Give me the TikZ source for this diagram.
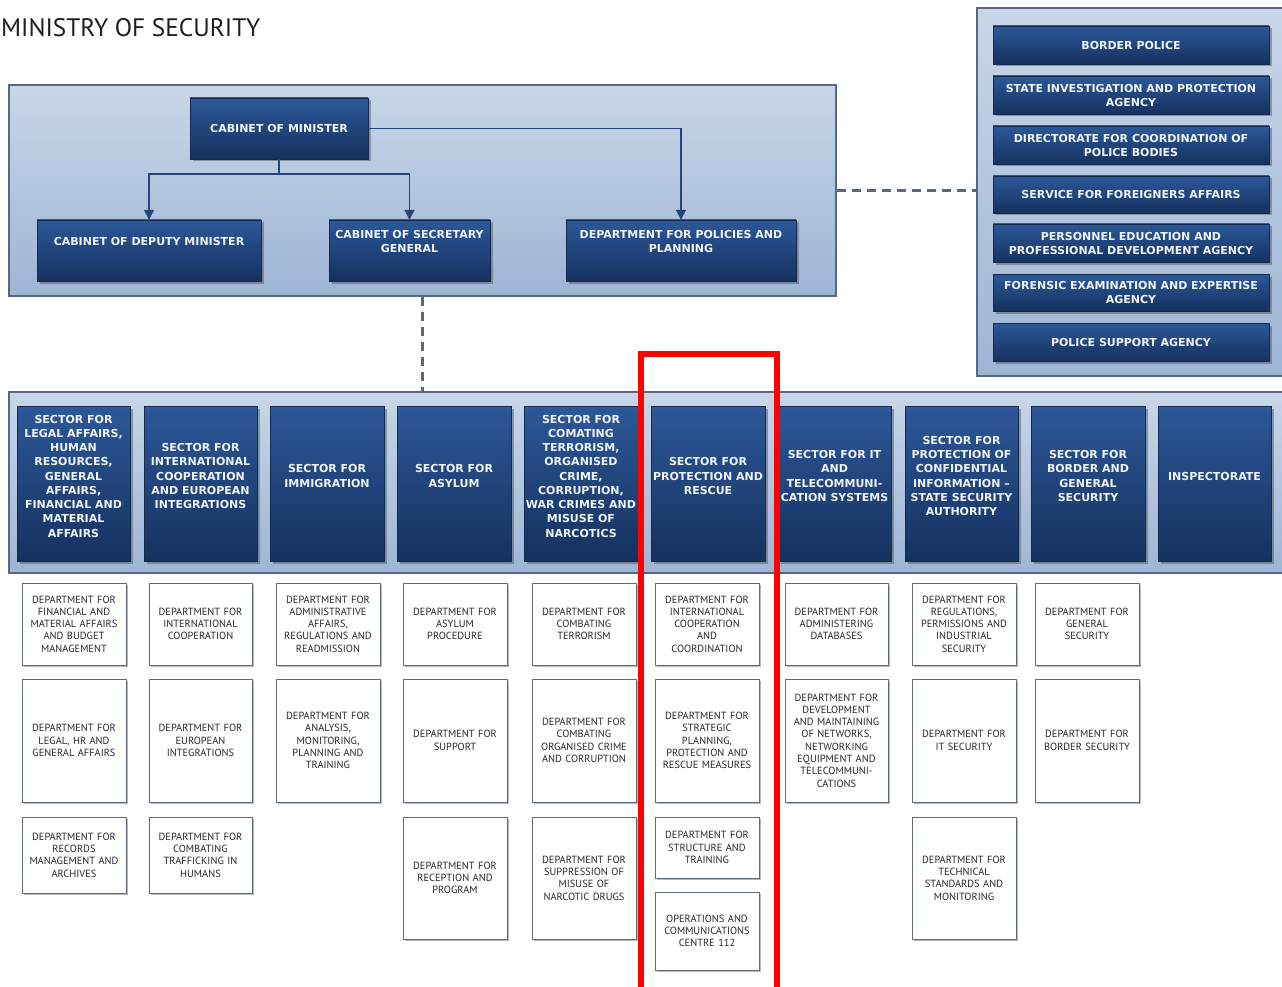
\documentclass[tikz,border=0pt]{standalone}
\usepackage{fontspec}
\setmainfont{DejaVu Sans}
\newfontfamily\ptsans{PT Sans}
\usetikzlibrary{shadows,arrows.meta}

\definecolor{dkT}{RGB}{44,88,153}
\definecolor{dkB}{RGB}{21,49,94}
\definecolor{dkLine}{RGB}{20,42,80}
\definecolor{pnT}{RGB}{200,214,232}
\definecolor{pnB}{RGB}{158,181,213}
\definecolor{pnBorder}{RGB}{88,104,130}
\definecolor{lnC}{RGB}{38,68,118}
\definecolor{dpBorder}{RGB}{95,107,123}
\definecolor{dpText}{RGB}{40,40,40}
\definecolor{titleC}{RGB}{30,30,30}
\definecolor{hdText}{RGB}{240,244,250}
\definecolor{markRed}{RGB}{255,0,0}

\newcommand\rectnode[7]{\node[#1, minimum width={#5-#3}, minimum height={#6-#4}] (#2) at ({(#3+#5)/2},{(#4+#6)/2}) {#7};}

\begin{document}
\begin{tikzpicture}[x=1pt,y=-1pt,
  panel/.style={rectangle, draw=pnBorder, line width=1.6, top color=pnT, bottom color=pnB, inner sep=0},
  darkbox/.style={rectangle, draw=dkLine, line width=0.4, top color=dkT, bottom color=dkB, inner sep=0,
    drop shadow={shadow xshift=2.5pt, shadow yshift=-2.5pt, opacity=0.45, fill=black!70}},
  hdtext/.style={align=center, text=hdText, inner sep=0, font=\bfseries\fontsize{11}{14}\selectfont},
  sectext/.style={align=center, text=hdText, inner sep=0, font=\bfseries\fontsize{11}{14.25}\selectfont},
  dept/.style={rectangle, draw=dpBorder, line width=1.0, fill=white, inner sep=1, text width=100, align=center,
    text=dpText, font=\ptsans\fontsize{10.4}{12.3}\selectfont,
    drop shadow={shadow xshift=2pt, shadow yshift=-2pt, opacity=0.4, fill=black!70}},
  conn/.style={draw=lnC, line width=1.3},
  arr/.style={draw=lnC, line width=1.3, -{Triangle[length=10pt,width=10pt]}},
  dashlink/.style={draw=pnBorder, line width=2.2, dash pattern=on 9pt off 6pt},
  redmark/.style={draw=markRed, line width=6}
]
\useasboundingbox (0,0) rectangle (1282,987);
\clip (0,0) rectangle (1282,987);
\fill[white] (0,0) rectangle (1282,987);

% title
\node[anchor=base west, inner sep=0, text=titleC, font=\ptsans\fontsize{25.3}{30}\selectfont] (title) at (1,37) {MINISTRY OF SECURITY};

% panels
\rectnode{panel}{tp}{9}{85}{836}{296}{}
\rectnode{panel}{rp}{977}{8}{1292}{376}{}
\rectnode{panel}{sp}{9}{392}{1292}{573}{}

% dashed links
\draw[dashlink] (tp.east) -- (rp.west |- tp.east);
\draw[dashlink] (tp.south) -- (sp.north -| tp.south);

% cabinet level
\rectnode{darkbox}{cm}{190}{98}{368}{159}{}
\node[hdtext] (cmt) at (cm.center) {CABINET OF MINISTER};
\rectnode{darkbox}{cdm}{37}{220}{261}{281}{}
\node[hdtext] (cdmt) at ([yshift=-22pt]cdm.north) {CABINET OF DEPUTY MINISTER};
\rectnode{darkbox}{csg}{329}{220}{490}{281}{}
\node[hdtext] (csgt) at ([yshift=-22pt]csg.north) {CABINET OF SECRETARY\\GENERAL};
\rectnode{darkbox}{dpp}{566}{220}{796}{281}{}
\node[hdtext] (dppt) at ([yshift=-22pt]dpp.north) {DEPARTMENT FOR POLICIES AND\\PLANNING};

\coordinate (jn) at (cm.south |- 0,174);
\draw[conn] (cm.south) -- (jn);
\draw[arr] (jn) -| (cdm.north);
\draw[arr] (jn) -| (csg.north);
\draw[arr] (cm.east) -| (dpp.north);

% right panel agencies
\rectnode{darkbox}{a1}{993}{26}{1269}{64}{}
\node[hdtext] (a1t) at (a1.center) {BORDER POLICE};
\rectnode{darkbox}{a2}{993}{76}{1269}{114}{}
\node[hdtext] (a2t) at (a2.center) {STATE INVESTIGATION AND PROTECTION\\AGENCY};
\rectnode{darkbox}{a3}{993}{126}{1269}{164}{}
\node[hdtext] (a3t) at (a3.center) {DIRECTORATE FOR COORDINATION OF\\POLICE BODIES};
\rectnode{darkbox}{a4}{993}{176}{1269}{213}{}
\node[hdtext] (a4t) at (a4.center) {SERVICE FOR FOREIGNERS AFFAIRS};
\rectnode{darkbox}{a5}{993}{224}{1269}{262}{}
\node[hdtext] (a5t) at (a5.center) {PERSONNEL EDUCATION AND\\PROFESSIONAL DEVELOPMENT AGENCY};
\rectnode{darkbox}{a6}{993}{274}{1269}{311}{}
\node[hdtext] (a6t) at (a6.center) {FORENSIC EXAMINATION AND EXPERTISE\\AGENCY};
\rectnode{darkbox}{a7}{993}{323}{1269}{361}{}
\node[hdtext] (a7t) at (a7.center) {POLICE SUPPORT AGENCY};

% sectors
\rectnode{darkbox}{s1}{17}{406}{130}{561}{}
\node[sectext] (s1t) at ([yshift=7.5pt]s1.center) {SECTOR FOR\\LEGAL AFFAIRS,\\HUMAN\\RESOURCES,\\GENERAL\\AFFAIRS,\\FINANCIAL AND\\MATERIAL\\AFFAIRS};
\rectnode{darkbox}{s2}{144}{406}{257}{561}{}
\node[sectext] (s2t) at ([yshift=7.5pt]s2.center) {SECTOR FOR\\INTERNATIONAL\\COOPERATION\\AND EUROPEAN\\INTEGRATIONS};
\rectnode{darkbox}{s3}{270}{406}{384}{561}{}
\node[sectext] (s3t) at ([yshift=7.5pt]s3.center) {SECTOR FOR\\IMMIGRATION};
\rectnode{darkbox}{s4}{397}{406}{511}{561}{}
\node[sectext] (s4t) at ([yshift=7.5pt]s4.center) {SECTOR FOR\\ASYLUM};
\rectnode{darkbox}{s5}{524}{406}{638}{561}{}
\node[sectext] (s5t) at ([yshift=7.5pt]s5.center) {SECTOR FOR\\COMATING\\TERRORISM,\\ORGANISED\\CRIME,\\CORRUPTION,\\WAR CRIMES AND\\MISUSE OF\\NARCOTICS};
\rectnode{darkbox}{s6}{651}{406}{765}{561}{}
\node[sectext] (s6t) at ([yshift=7.5pt]s6.center) {SECTOR FOR\\PROTECTION AND\\RESCUE};
\rectnode{darkbox}{s7}{778}{406}{891}{561}{}
\node[sectext] (s7t) at ([yshift=7.5pt]s7.center) {SECTOR FOR IT\\AND\\TELECOMMUNI-\\CATION SYSTEMS};
\rectnode{darkbox}{s8}{905}{406}{1018}{561}{}
\node[sectext] (s8t) at ([yshift=7.5pt]s8.center) {SECTOR FOR\\PROTECTION OF\\CONFIDENTIAL\\INFORMATION –\\STATE SECURITY\\AUTHORITY};
\rectnode{darkbox}{s9}{1031}{406}{1145}{561}{}
\node[sectext] (s9t) at ([yshift=7.5pt]s9.center) {SECTOR FOR\\BORDER AND\\GENERAL\\SECURITY};
\rectnode{darkbox}{s10}{1158}{406}{1271}{561}{}
\node[sectext] (s10t) at ([yshift=7.5pt]s10.center) {INSPECTORATE};

% departments
\rectnode{dept}{d11}{22}{583}{126}{665}{DEPARTMENT FOR\\FINANCIAL AND\\MATERIAL AFFAIRS\\AND BUDGET\\MANAGEMENT}
\rectnode{dept}{d12}{22}{679}{126}{802}{DEPARTMENT FOR\\LEGAL, HR AND\\GENERAL AFFAIRS}
\rectnode{dept}{d13}{22}{817}{126}{893}{DEPARTMENT FOR\\RECORDS\\MANAGEMENT AND\\ARCHIVES}

\rectnode{dept}{d21}{149}{583}{252}{665}{DEPARTMENT FOR\\INTERNATIONAL\\COOPERATION}
\rectnode{dept}{d22}{149}{679}{252}{802}{DEPARTMENT FOR\\EUROPEAN\\INTEGRATIONS}
\rectnode{dept}{d23}{149}{817}{252}{893}{DEPARTMENT FOR\\COMBATING\\TRAFFICKING IN\\HUMANS}

\rectnode{dept}{d31}{276}{583}{380}{665}{DEPARTMENT FOR\\ADMINISTRATIVE\\AFFAIRS,\\REGULATIONS AND\\READMISSION}
\rectnode{dept}{d32}{276}{679}{380}{802}{DEPARTMENT FOR\\ANALYSIS,\\MONITORING,\\PLANNING AND\\TRAINING}

\rectnode{dept}{d41}{403}{583}{507}{665}{DEPARTMENT FOR\\ASYLUM\\PROCEDURE}
\rectnode{dept}{d42}{403}{679}{507}{802}{DEPARTMENT FOR\\SUPPORT}
\rectnode{dept}{d43}{403}{817}{507}{939}{DEPARTMENT FOR\\RECEPTION AND\\PROGRAM}

\rectnode{dept}{d51}{532}{583}{636}{665}{DEPARTMENT FOR\\COMBATING\\TERRORISM}
\rectnode{dept}{d52}{532}{679}{636}{802}{DEPARTMENT FOR\\COMBATING\\ORGANISED CRIME\\AND CORRUPTION}
\rectnode{dept}{d53}{532}{817}{636}{939}{DEPARTMENT FOR\\SUPPRESSION OF\\MISUSE OF\\NARCOTIC DRUGS}

\rectnode{dept}{d61}{655}{583}{759}{665}{DEPARTMENT FOR\\INTERNATIONAL\\COOPERATION\\AND\\COORDINATION}
\rectnode{dept}{d62}{655}{679}{759}{802}{DEPARTMENT FOR\\STRATEGIC\\PLANNING,\\PROTECTION AND\\RESCUE MEASURES}
\rectnode{dept}{d63}{655}{817}{759}{878}{DEPARTMENT FOR\\STRUCTURE AND\\TRAINING}
\rectnode{dept}{d64}{655}{892}{759}{970}{OPERATIONS AND\\COMMUNICATIONS\\CENTRE 112}

\rectnode{dept}{d71}{785}{583}{888}{665}{DEPARTMENT FOR\\ADMINISTERING\\DATABASES}
\rectnode{dept}{d72}{785}{679}{888}{802}{DEPARTMENT FOR\\DEVELOPMENT\\AND MAINTAINING\\OF NETWORKS,\\NETWORKING\\EQUIPMENT AND\\TELECOMMUNI-\\CATIONS}

\rectnode{dept}{d81}{912}{583}{1016}{665}{DEPARTMENT FOR\\REGULATIONS,\\PERMISSIONS AND\\INDUSTRIAL\\SECURITY}
\rectnode{dept}{d82}{912}{679}{1016}{802}{DEPARTMENT FOR\\IT SECURITY}
\rectnode{dept}{d83}{912}{817}{1016}{939}{DEPARTMENT FOR\\TECHNICAL\\STANDARDS AND\\MONITORING}

\rectnode{dept}{d91}{1035}{583}{1139}{665}{DEPARTMENT FOR\\GENERAL\\SECURITY}
\rectnode{dept}{d92}{1035}{679}{1139}{802}{DEPARTMENT FOR\\BORDER SECURITY}

% red highlight
\coordinate (rbl) at (641,995);
\coordinate (rtl) at (641,353.5);
\coordinate (rtr) at (776.5,353.5);
\coordinate (rbr) at (776.5,995);
\draw[redmark] (rbl) -- (rtl) -- (rtr) -- (rbr);
\end{tikzpicture}
\end{document}
